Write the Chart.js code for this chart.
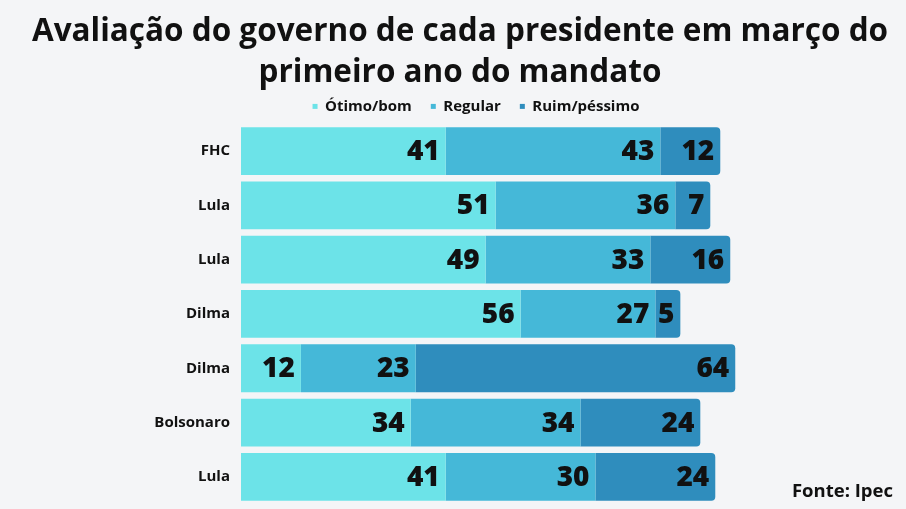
<!DOCTYPE html>
<html>
<head>
<meta charset="utf-8">
<script src="https://cdn.jsdelivr.net/npm/chart.js@4/dist/chart.umd.min.js"></script>
<style>
  html, body { margin: 0; padding: 0; background: #f4f5f7; }
  #wrap { width: 906px; height: 509px; position: relative; }
</style>
</head>
<body>
<div id="wrap"><canvas id="grafico"></canvas></div>
<script>
// dados
const presidentes = ['FHC', 'Lula', 'Lula', 'Dilma', 'Dilma', 'Bolsonaro', 'Lula'];
const otimoBom = [41, 51, 49, 56, 12, 34, 41];
const regular = [43, 36, 33, 27, 23, 34, 30];
const ruimPessimo = [12, 7, 16, 5, 64, 24, 24];
const titulo = ['Avaliação do governo de cada presidente em março do', 'primeiro ano do mandato'];
const fonte = 'Fonte: Ipec';

const cores = ['#6ce3e8', '#45b8d8', '#2f8dbd'];

// rótulos dentro das barras, alinhados à direita de cada segmento
const rotulos = {
  id: 'rotulos',
  afterDatasetsDraw(chart) {
    const ctx = chart.ctx;
    ctx.save();
    ctx.font = '800 28px "Open Sans"';
    ctx.fillStyle = '#111';
    ctx.textAlign = 'right';
    ctx.textBaseline = 'middle';
    chart.data.datasets.forEach((ds, i) => {
      chart.getDatasetMeta(i).data.forEach((bar, j) => {
        ctx.fillText(ds.data[j], bar.x - 6, bar.y + 1);
      });
    });
    ctx.restore();
  }
};

// fundo, fonte no canto inferior direito, título e legenda um pouco à direita
const extras = {
  id: 'extras',
  beforeDraw(chart) {
    const ctx = chart.ctx;
    ctx.save();
    ctx.fillStyle = '#f4f5f7';
    ctx.fillRect(0, 0, chart.width, chart.height);
    ctx.restore();
  },
  afterLayout(chart) {
    chart.legend.left += 26;
    chart.legend.right += 26;
    chart.titleBlock.left += 10;
    chart.titleBlock.right += 10;
  },
  afterDraw(chart) {
    const ctx = chart.ctx;
    ctx.save();
    ctx.font = 'bold 18.5px "Open Sans"';
    ctx.fillStyle = '#111';
    ctx.textAlign = 'right';
    ctx.textBaseline = 'alphabetic';
    ctx.fillText(fonte, 893, 497);
    ctx.restore();
  }
};

new Chart(document.getElementById('grafico'), {
  type: 'bar',
  data: {
    labels: presidentes,
    datasets: [
      { label: 'Ótimo/bom', data: otimoBom, backgroundColor: cores[0] },
      { label: 'Regular', data: regular, backgroundColor: cores[1] },
      { label: 'Ruim/péssimo', data: ruimPessimo, backgroundColor: cores[2],
        borderRadius: { topRight: 4, bottomRight: 4 } }
    ]
  },
  options: {
    indexAxis: 'y',
    responsive: true,
    maintainAspectRatio: false,
    animation: false,
    barPercentage: 0.88,
    categoryPercentage: 1,
    layout: { padding: { left: 0, right: 6, top: 0, bottom: 5 } },
    scales: {
      x: { stacked: true, min: 0, max: 132, display: false },
      y: {
        stacked: true,
        grid: { display: false },
        border: { display: false },
        ticks: { color: '#111', font: { family: 'Open Sans', weight: 'bold', size: 15 }, padding: 3 },
        afterFit(scale) {
          scale.width = 241;
          scale.paddingTop = 0;
          scale.paddingBottom = 0;
        }
      }
    },
    plugins: {
      title: {
        display: true,
        text: titulo,
        color: '#111',
        font: { family: 'Open Sans', weight: 'bold', size: 31.5, lineHeight: 1.3 },
        padding: { top: 12, bottom: -14 }
      },
      legend: {
        position: 'top',
        labels: {
          color: '#111',
          font: { family: 'Open Sans', weight: 'bold', size: 15 },
          boxWidth: 5, boxHeight: 5, padding: 19
        }
      },
      tooltip: { enabled: false }
    }
  },
  plugins: [rotulos, extras]
});
</script>
</body>
</html>
